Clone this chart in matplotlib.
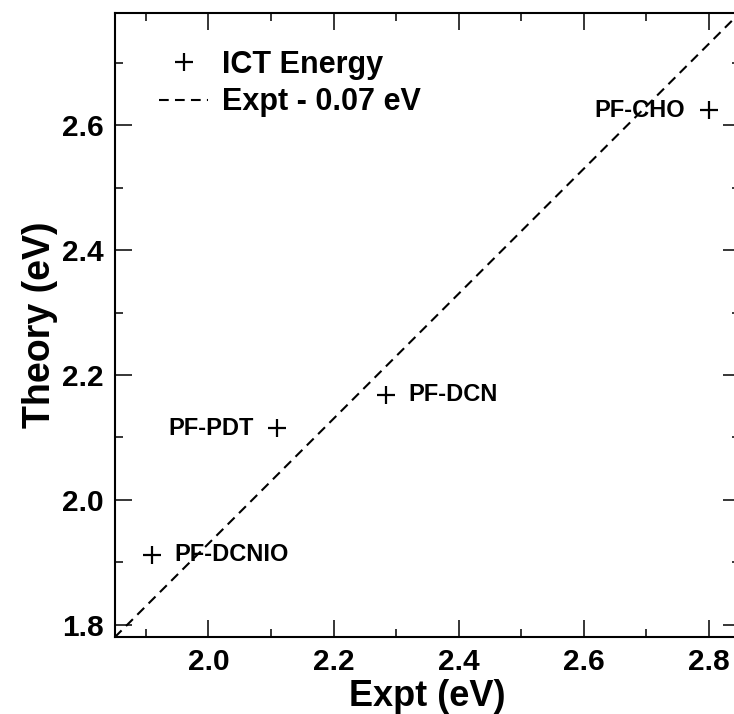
import numpy as np
import matplotlib
matplotlib.use("Agg")
import matplotlib.pyplot as plt

plt.rcParams['font.family'] = ['Liberation Sans', 'DejaVu Sans']
plt.rcParams['font.weight'] = 'bold'
plt.rcParams['lines.scale_dashes'] = False

# ICT energies: experiment vs theory (eV)
names = ["PF-DCNIO", "PF-PDT", "PF-DCN", "PF-CHO"]
expt = [1.91, 2.11, 2.284, 2.80]
theory = [1.912, 2.115, 2.168, 2.624]
shift = 0.07

# which side of the marker each name goes
label_side = ["right", "left", "right", "left"]

xlim = (1.85, 2.85)
ylim = (1.78, 2.78)

fig = plt.figure(figsize=(7.34, 7.14), dpi=100)
ax = fig.add_axes([114.7 / 734, 1 - 637.3 / 714, 625.3 / 734, 624.6 / 714])

ax.plot(expt, theory, linestyle='none', marker='+', markersize=13,
        markeredgewidth=1.6, color='black', label='ICT Energy')

xs = np.array(xlim)
ax.plot(xs, xs - shift, color='black', lw=1.5, dashes=(7, 4.5),
        label='Expt - 0.07 eV')

for n, x, y, side in zip(names, expt, theory, label_side):
    if side == "right":
        ax.annotate(n, (x, y), xytext=(16, 0), textcoords='offset points',
                    ha='left', va='center', fontsize=17, fontweight='bold')
    else:
        ax.annotate(n, (x, y), xytext=(-17, 0), textcoords='offset points',
                    ha='right', va='center', fontsize=17, fontweight='bold')

ax.set_xlim(*xlim)
ax.set_ylim(*ylim)
ax.set_xticks([2.0, 2.2, 2.4, 2.6, 2.8])
ax.set_yticks([1.8, 2.0, 2.2, 2.4, 2.6])
ax.set_xticks(np.arange(1.9, 2.85, 0.2), minor=True)
ax.set_yticks(np.arange(1.9, 2.75, 0.2), minor=True)
ax.set_xticklabels(["2.0", "2.2", "2.4", "2.6", "2.8"])
ax.set_yticklabels(["1.8", "2.0", "2.2", "2.4", "2.6"])

ax.tick_params(which='both', direction='in', top=True, right=True,
               labelsize=21.5, width=1.1, pad=8)
ax.tick_params(which='major', length=12)
ax.tick_params(which='minor', length=6)
for s in ax.spines.values():
    s.set_linewidth(1.5)

ax.set_xlabel("Expt (eV)", fontsize=26, fontweight='bold', labelpad=2)
ax.set_ylabel("Theory (eV)", fontsize=27, fontweight='bold', labelpad=3)

ax.legend(loc='upper left', bbox_to_anchor=(0.027, 0.985), frameon=False,
          fontsize=22, handlelength=1.6, handletextpad=0.45, labelspacing=0.25)

fig.savefig("out.png", dpi=100)
